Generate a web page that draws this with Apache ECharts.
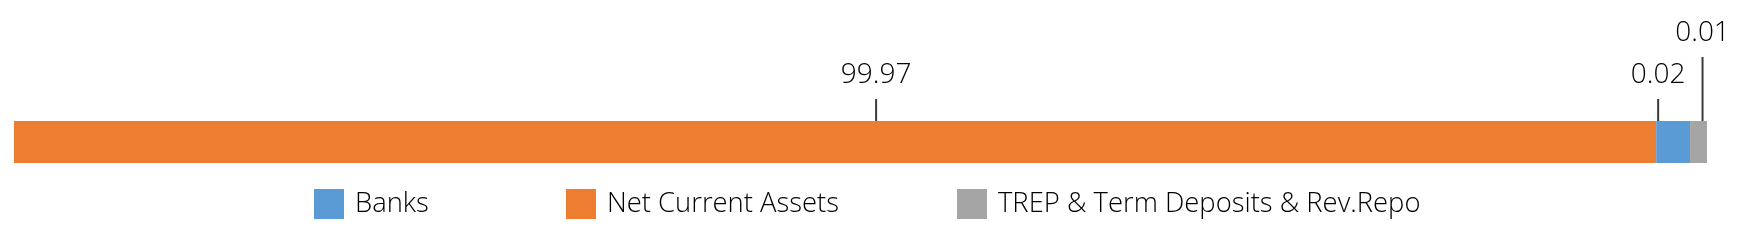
<!DOCTYPE html>
<html>
<head>
<meta charset="utf-8">
<script src="https://cdn.jsdelivr.net/npm/echarts@6/dist/echarts.min.js"></script>
<style>html,body{margin:0;padding:0;background:#fff}#c{width:1742px;height:250px}</style>
</head>
<body>
<div id="c"></div>
<script>
// Series names (stack order, left to right)
const seriesNames = ['Net Current Assets', 'Banks', 'TREP & Term Deposits & Rev.Repo'];
// Values shown in the labels
const labelValues = [99.97, 0.02, 0.01];
// Segment lengths as drawn in the reference (share of bar)
const barShares = [97, 2, 1];
const colors = ['#ED7D31', '#5B9BD5', '#A5A5A5'];
const legendOrder = ['Banks', 'Net Current Assets', 'TREP & Term Deposits & Rev.Repo'];
const categories = ['Portfolio'];

const FONT = 'Open Sans';
const labelOffsets = [41, -15, 4];
const lineLens = [22, 22, 64];

const chart = echarts.init(document.getElementById('c'), null, {renderer: 'canvas'});
const series = seriesNames.map((name, i) => ({
  name: name,
  type: 'bar',
  stack: 'total',
  barWidth: 42,
  itemStyle: {color: colors[i]},
  emphasis: {disabled: true},
  data: [barShares[i]],
  label: {
    show: true,
    position: 'top',
    distance: 0,
    offset: [labelOffsets[i], 0],
    formatter: () => '{v|' + labelValues[i].toFixed(2) + '}\n{l| }',
    rich: {
      v: {fontFamily: FONT, fontSize: 28, fontWeight: 350, color: '#000', lineHeight: 47, align: 'center'},
      l: {width: 2, height: lineLens[i], lineHeight: lineLens[i], backgroundColor: '#3a3a3a', align: 'center', fontSize: 1}
    }
  }
}));

const legendLefts = [314, 566, 957];
const legends = legendOrder.map((n, i) => ({
  data: [n],
  left: legendLefts[i],
  top: 189,
  padding: 0,
  itemWidth: 30,
  itemHeight: 30,
  itemGap: 0,
  icon: 'rect',
  selectedMode: false,
  textStyle: {fontFamily: FONT, fontSize: 27.4, fontWeight: 350, color: '#000', padding: [0, 0, 0, 6]}
}));

chart.setOption({
  animation: false,
  grid: {left: 14, right: 35, top: 100, bottom: 66, containLabel: false},
  xAxis: {type: 'value', min: 0, max: 100, show: false},
  yAxis: {type: 'category', data: categories, show: false},
  legend: legends,
  series: series
});
</script>
</body>
</html>
